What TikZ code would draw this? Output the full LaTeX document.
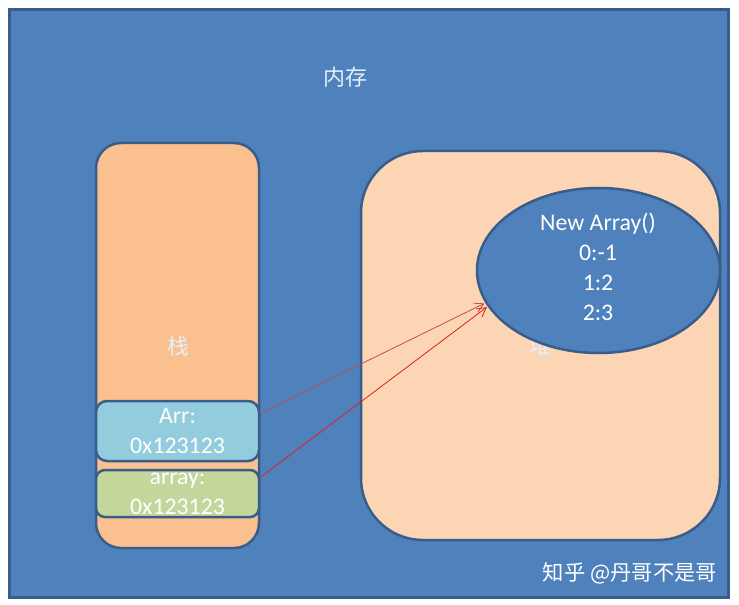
\documentclass[tikz,border=0pt]{standalone}
\usepackage{fontspec}
\setmainfont{Carlito}
\newfontfamily\cjk{Noto Sans CJK SC}
\usetikzlibrary{shapes.geometric,arrows.meta}
\definecolor{memblue}{HTML}{4F81BD}
\definecolor{edgeblue}{HTML}{385D8A}
\definecolor{stackorange}{HTML}{FAC08F}
\definecolor{heappeach}{HTML}{FCD5B5}
\definecolor{arrcyan}{HTML}{93CDDD}
\definecolor{arraygreen}{HTML}{C3D69B}
\definecolor{labelwhite}{HTML}{E6EEF8}
\definecolor{ptrbrown}{HTML}{C0504D}
\definecolor{ptrred}{HTML}{E21E1E}
\begin{document}
\begin{tikzpicture}[x=1bp,y=-1bp,
  box/.style={draw=edgeblue,line width=2.5bp,inner sep=0pt},
  ref/.style={align=center,text=white,font=\fontsize{23.8bp}{30bp}\selectfont},
  zh/.style={text=labelwhite,font=\cjk\fontsize{22bp}{26bp}\selectfont},
  ptr/.style={-{Straight Barb[length=9bp,width=10bp]},line width=0.8bp,shorten >=1bp}]
\useasboundingbox (0,0) rectangle (739,605);

\node[box,fill=memblue,line width=3bp,minimum width=718bp,minimum height=587bp] (mem) at (369,303.5) {};
\node[zh] (memlabel) at (345,77) {内存};

% stack side
\node[box,fill=stackorange,rounded corners=25bp,minimum width=163bp,minimum height=405bp] (stack) at (177.5,345.5) {};
\node[zh] (stacklabel) at (178,346) {栈};
\node[box,fill=arrcyan,rounded corners=11bp,minimum width=163bp,minimum height=60bp] (arr) at (177.5,431) {};
\node[ref] (arrtext) at (arr) {Arr:\\0x123123};
\node[box,fill=arraygreen,rounded corners=9bp,minimum width=163bp,minimum height=47bp] (arry) at (177.5,493.5) {};
\node[ref] (arrytext) at (177.5,494) {array:\\0x123123};

% heap side
\node[box,fill=heappeach,rounded corners=62bp,minimum width=359bp,minimum height=389bp] (heap) at (540.5,345.5) {};
\node[zh] (heaplabel) at (540,346) {堆};
\node[box,ellipse,fill=memblue,minimum width=243bp,minimum height=165bp] (obj) at (598.5,270.5) {};
\node[ref] (objtext) at (598,267) {New Array()\\0:-1\\1:2\\2:3};

\draw[ptr,ptrbrown] (arr.12) -- (obj.196);
\draw[ptr,ptrred] (arry.11) -- (obj.198);

\node[text=white,font=\cjk\fontsize{21.3bp}{25bp}\selectfont] (mark) at (630,573) {知乎 @丹哥不是哥};
\end{tikzpicture}
\end{document}
